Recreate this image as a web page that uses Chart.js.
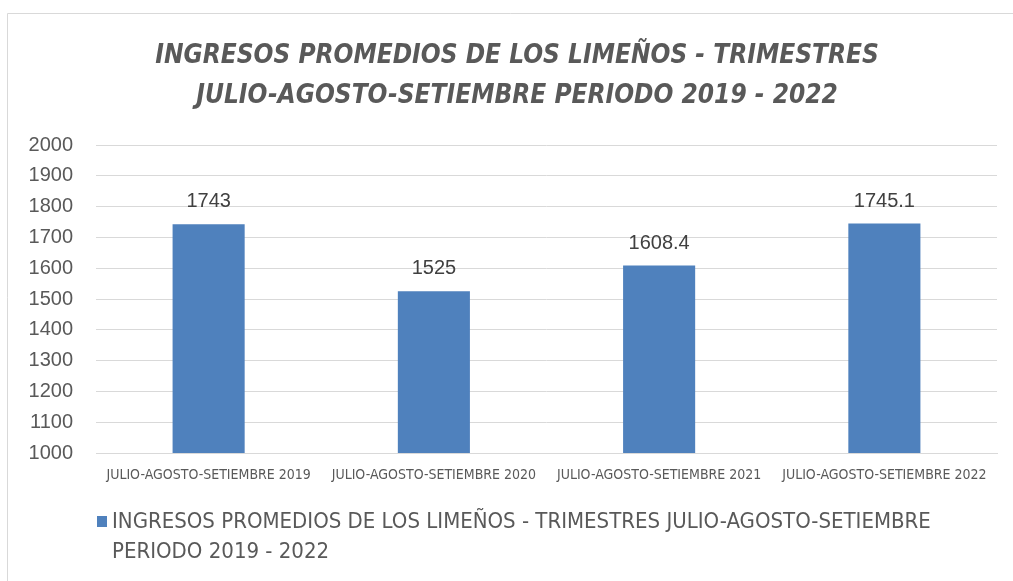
<!DOCTYPE html>
<html><head><meta charset="utf-8">
<script src="https://cdn.jsdelivr.net/npm/chart.js@4"></script>
<style>html,body{margin:0;padding:0;background:#fff;}#wrap{width:1013px;height:581px;}</style>
</head><body><div id="wrap"><canvas id="c" width="1013" height="581"></canvas></div>
<script>
const titleLines = ["INGRESOS PROMEDIOS DE LOS LIMEÑOS - TRIMESTRES", "JULIO-AGOSTO-SETIEMBRE PERIODO 2019 - 2022"];
const categories = ["JULIO-AGOSTO-SETIEMBRE 2019", "JULIO-AGOSTO-SETIEMBRE 2020", "JULIO-AGOSTO-SETIEMBRE 2021", "JULIO-AGOSTO-SETIEMBRE 2022"];
const seriesName = "INGRESOS PROMEDIOS DE LOS LIMEÑOS - TRIMESTRES JULIO-AGOSTO-SETIEMBRE PERIODO 2019 - 2022";
const values = [1743, 1525, 1608.4, 1745.1];
const yMin = 1000, yMax = 2000, yStep = 100;

const NARROW = '"Liberation Sans Narrow", "DejaVu Sans Condensed", sans-serif';
const REG = '"Liberation Sans", Arial, sans-serif';

const framePlugin = {
  id: 'frame',
  beforeDraw(chart) {
    const ctx = chart.ctx;
    ctx.save();
    ctx.fillStyle = '#fff';
    ctx.fillRect(0, 0, chart.width, chart.height);
    ctx.strokeStyle = '#d9d9d9';
    ctx.lineWidth = 1;
    ctx.beginPath();
    ctx.moveTo(7.5, chart.height); ctx.lineTo(7.5, 13.5); ctx.lineTo(chart.width, 13.5);
    ctx.stroke();
    // title
    ctx.fillStyle = '#595959';
    ctx.font = 'italic bold 26px ' + NARROW;
    ctx.textAlign = 'center';
    ctx.textBaseline = 'middle';
    ctx.fillText(titleLines[0], 517, 56);
    ctx.fillText(titleLines[1], 517, 96);
    ctx.restore();
  },
  afterDatasetsDraw(chart) {
    const ctx = chart.ctx;
    ctx.save();
    ctx.fillStyle = '#404040';
    ctx.font = '20px ' + REG;
    ctx.textAlign = 'center';
    ctx.textBaseline = 'alphabetic';
    const meta = chart.getDatasetMeta(0);
    meta.data.forEach((bar, i) => {
      ctx.fillText(String(chart.data.datasets[0].data[i]), bar.x, bar.y - 17);
    });
    // legend
    const ds = chart.data.datasets[0];
    ctx.fillStyle = ds.backgroundColor;
    ctx.fillRect(97, 516, 10, 11);
    ctx.fillStyle = '#595959';
    ctx.font = '22px ' + NARROW;
    ctx.textAlign = 'left';
    ctx.textBaseline = 'middle';
    const words = ds.label.split(' ');
    const lines = []; let cur = '';
    const maxW = 850;
    words.forEach(w => {
      const t = cur ? cur + ' ' + w : w;
      if (ctx.measureText(t).width > maxW && cur) { lines.push(cur); cur = w; } else cur = t;
    });
    if (cur) lines.push(cur);
    lines.forEach((l, i) => ctx.fillText(l, 112, 522 + i * 30));
    ctx.restore();
  }
};

new Chart(document.getElementById('c'), {
  type: 'bar',
  data: {
    labels: categories,
    datasets: [{
      label: seriesName,
      data: values,
      backgroundColor: '#4F81BD',
      categoryPercentage: 1,
      barPercentage: 0.32
    }]
  },
  options: {
    responsive: false,
    animation: false,
    devicePixelRatio: 1,
    layout: { padding: { top: 145, left: 7, right: 16, bottom: 88 } },
    plugins: { legend: { display: false }, title: { display: false }, tooltip: { enabled: false } },
    scales: {
      x: {
        grid: { display: false, drawTicks: false },
        border: { display: true, color: '#d9d9d9', width: 1 },
        ticks: { color: '#595959', font: { family: NARROW, size: 14 }, padding: 14, maxRotation: 0, autoSkip: false },
        afterFit(s) { s.height = 40; }
      },
      y: {
        min: yMin, max: yMax,
        grid: { color: '#d9d9d9', drawTicks: false },
        border: { display: false },
        ticks: { stepSize: yStep, color: '#595959', font: { family: REG, size: 20 }, padding: 23,
                 callback: v => String(v) },
        afterFit(s) { s.width = 89; }
      }
    }
  },
  plugins: [framePlugin]
});
</script>
</body></html>
